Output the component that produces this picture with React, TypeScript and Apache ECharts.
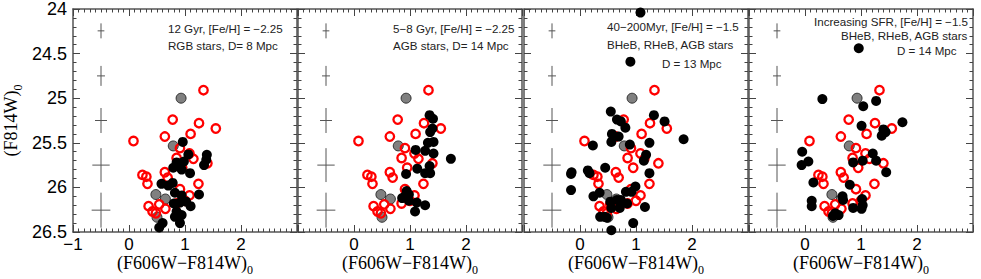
import React, { useEffect, useRef } from "react";
import * as echarts from "echarts";

// Observed stars (same in every panel): colour, magnitude
const redStars: number[][] = [
  [1.33, 24.91], [0.78, 25.24], [1.25, 25.28], [1.55, 25.34], [0.08, 25.48],
  [0.64, 25.43], [1.10, 25.40], [0.91, 25.56], [0.85, 25.67], [1.15, 25.68],
  [1.40, 25.73], [0.95, 25.78], [1.08, 25.62], [0.24, 25.86], [0.31, 25.88],
  [0.33, 25.96], [0.64, 25.83], [0.69, 25.89], [1.24, 25.96], [0.91, 26.02],
  [1.08, 26.09], [0.35, 26.21], [0.42, 26.27], [0.54, 26.19], [0.65, 26.24],
  [0.85, 26.18], [0.48, 26.29], [1.00, 26.15],
];
const greyStars: number[][] = [
  [0.93, 25.0], [0.79, 25.535], [0.48, 26.08], [0.65, 26.13], [0.5, 26.335],
];

// Model stars, one list per panel
const model12Gyr: number[][] = [
  [0.96, 25.49], [1.06, 25.63], [1.39, 25.635], [1.38, 25.69], [1.34, 25.75],
  [0.85, 25.72], [0.98, 25.71], [0.79, 25.78], [0.94, 25.80], [1.09, 25.84],
  [0.58, 25.96], [0.70, 25.98], [0.78, 25.95], [0.82, 26.06], [0.94, 26.09],
  [1.25, 26.08], [0.80, 26.18], [0.91, 26.17], [1.02, 26.16], [1.10, 26.21],
  [0.85, 26.27], [0.94, 26.31], [0.82, 26.33], [0.60, 26.40], [0.54, 26.45],
  [0.91, 26.40],
];
const model5to8Gyr: number[][] = [
  [1.35, 25.19], [1.41, 25.23], [1.40, 25.34], [1.36, 25.38], [1.42, 25.49],
  [1.32, 25.50], [1.27, 25.59], [1.10, 25.58], [1.42, 25.62], [1.73, 25.68],
  [0.93, 25.85], [1.13, 25.79], [1.27, 25.84], [1.35, 25.76], [1.36, 25.84],
  [0.94, 26.04], [0.91, 26.10], [0.86, 26.12], [0.98, 26.15], [1.12, 26.17],
  [1.27, 26.20], [1.09, 26.27], [0.98, 26.08],
];
const model40to200Myr: number[][] = [
  [1.08, 24.04], [0.90, 24.59], [0.55, 25.15], [0.66, 25.24], [0.73, 25.26],
  [0.81, 25.33], [1.32, 25.19], [1.51, 25.26], [0.57, 25.40], [0.69, 25.43],
  [0.56, 25.49], [0.89, 25.52], [1.24, 25.50], [1.85, 25.46], [0.23, 25.53],
  [1.18, 25.635], [1.14, 25.70], [0.45, 25.78], [-0.15, 25.83], [-0.16, 25.85],
  [0.14, 25.81], [0.17, 25.84], [1.24, 25.84], [-0.16, 26.03], [0.99, 25.99],
  [0.92, 26.05], [0.82, 26.05], [0.35, 26.06], [0.24, 26.10], [0.54, 26.16],
  [0.66, 26.14], [0.73, 26.14], [0.56, 26.23], [0.71, 26.23], [0.84, 26.18],
  [1.16, 26.22], [0.36, 26.33], [0.44, 26.33], [0.48, 26.34], [0.95, 26.40],
  [0.56, 26.48],
];
const modelIncreasingSFR: number[][] = [
  [0.96, 24.44], [0.31, 25.01], [1.04, 25.09], [1.27, 25.03], [1.01, 25.31],
  [1.74, 25.27], [1.40, 25.35], [1.44, 25.38], [1.37, 25.42], [-0.05, 25.60],
  [0.06, 25.71], [-0.06, 25.75], [0.86, 25.72], [1.03, 25.70], [1.21, 25.62],
  [1.27, 25.70], [1.45, 25.83], [0.15, 25.945], [0.80, 25.97], [0.12, 26.15],
  [0.12, 26.21], [0.67, 26.10], [0.68, 26.14], [1.02, 26.13], [1.03, 26.20],
  [0.86, 26.23], [1.01, 26.24], [0.54, 26.29], [0.60, 26.31], [0.50, 26.32],
];

// Typical photometric errors: colour position, magnitude, colour error, magnitude error
const errColour = [-0.5, -0.5, -0.5, -0.5, -0.5];
const errMag = [24.245, 24.75, 25.25, 25.75, 26.255];
const errColourSize = [0.06, 0.071, 0.107, 0.155, 0.167];
const errMagSize = [0.084, 0.112, 0.14, 0.19, 0.196];

const xTicks = { min: -1, max: 3, interval: 1 };
const yTicks = { min: 24, max: 26.5, interval: 0.5 };

const panelModels = [model12Gyr, model5to8Gyr, model40to200Myr, modelIncreasingSFR];
const panelNotes: string[][] = [
  ["12 Gyr, [Fe/H] = \u22122.25", "RGB stars, D= 8 Mpc"],
  ["5\u22128 Gyr, [Fe/H] = \u22122.25", "AGB stars, D= 14 Mpc"],
  ["40\u2212200Myr, [Fe/H] = \u22121.5", "BHeB, RHeB, AGB stars", "D = 13 Mpc"],
  ["Increasing SFR, [Fe/H] = \u22121.5", "BHeB, RHeB, AGB stars", "D = 14 Mpc"],
];

const SANS = "'Liberation Sans', Arial, Helvetica, sans-serif";
const SERIF = "'Liberation Serif', 'Times New Roman', serif";

export default function App() {
  const ref = useRef<HTMLDivElement>(null);
  useEffect(() => {
    document.body.style.margin = "0";
    const chart = echarts.init(ref.current!, null, { renderer: "svg" });
    const lefts = [73, 298, 524, 749];
    const grids = lefts.map((l) => ({
      left: l, top: 9, width: 224, height: 223, containLabel: false, outerBoundsMode: "none",
    }));

    const axisLine = { show: true, onZero: false, lineStyle: { color: "#555", width: 1.5 } };
    const tick = { show: true, inside: true, length: 7, lineStyle: { color: "#444", width: 1 } };

    const xAxes: any[] = [];
    const yAxes: any[] = [];
    const series: any[] = [];
    const errData = errColour.map((c, i) => [c, errMag[i], errColourSize[i], errMagSize[i]]);

    lefts.forEach((_, i) => {
      const fmtX = (v: number) => {
        if (v === 3) return "";
        if (i > 0 && v === -1) return "";
        return v < 0 ? "\u2212" + Math.abs(v) : String(v);
      };
      xAxes.push({
        gridIndex: i, type: "value", position: "bottom", ...xTicks,
        axisLine, axisTick: tick,
        minorTick: { show: true, splitNumber: 10, length: 3.5, lineStyle: { color: "#444", width: 1 } },
        splitLine: { show: false },
        axisLabel: { show: true, formatter: fmtX, fontSize: 17, fontFamily: SANS, color: "#000", margin: 4 },
        name: "{a|(F606W\u2212F814W)}{b|0}",
        nameLocation: "middle", nameGap: 18, nameMoveOverlap: false,
        nameTextStyle: {
          rich: {
            a: { fontSize: 18, fontFamily: SERIF, color: "#000" },
            b: { fontSize: 12, fontFamily: SERIF, color: "#000", padding: [14, 0, 0, 0] },
          },
        },
      });
      xAxes.push({
        gridIndex: i, type: "value", position: "top", ...xTicks,
        axisLine, axisTick: tick,
        minorTick: { show: true, splitNumber: 10, length: 3.5, lineStyle: { color: "#444", width: 1 } },
        splitLine: { show: false }, axisLabel: { show: false },
      });
      yAxes.push({
        gridIndex: i, type: "value", position: "left", inverse: true, ...yTicks,
        axisLine, axisTick: tick,
        minorTick: { show: true, splitNumber: 5, length: 3.5, lineStyle: { color: "#444", width: 1 } },
        splitLine: { show: false },
        axisLabel: { show: i === 0, fontSize: 18, fontFamily: SANS, color: "#000", margin: 6 },
        ...(i === 0
          ? {
              name: "{a|(F814W)}{b|0}",
              nameLocation: "middle", nameGap: 49, nameRotate: 90,
              nameTextStyle: {
                rich: {
                  a: { fontSize: 18, fontFamily: SERIF, color: "#000" },
                  b: { fontSize: 12, fontFamily: SERIF, color: "#000", padding: [14, 0, 0, 0] },
                },
              },
            }
          : {}),
      });
      yAxes.push({
        gridIndex: i, type: "value", position: "right", inverse: true, ...yTicks,
        axisLine, axisTick: tick,
        minorTick: { show: true, splitNumber: 5, length: 3.5, lineStyle: { color: "#444", width: 1 } },
        splitLine: { show: false }, axisLabel: { show: false },
      });

      const xi = 2 * i;
      const yi = 2 * i;
      series.push({
        type: "custom", xAxisIndex: xi, yAxisIndex: yi, data: errData, z: 1,
        renderItem: (params: any, api: any) => {
          const x = api.value(0), y = api.value(1), dx = api.value(2), dy = api.value(3);
          const a = api.coord([x - dx, y]), b = api.coord([x + dx, y]);
          const c = api.coord([x, y - dy]), d = api.coord([x, y + dy]);
          const style = { stroke: "#555", lineWidth: 1 };
          return {
            type: "group",
            children: [
              { type: "line", shape: { x1: a[0], y1: a[1], x2: b[0], y2: b[1] }, style },
              { type: "line", shape: { x1: c[0], y1: c[1], x2: d[0], y2: d[1] }, style },
            ],
          };
        },
      });
      series.push({
        type: "scatter", xAxisIndex: xi, yAxisIndex: yi, data: greyStars, z: 2,
        symbol: "circle", symbolSize: 10,
        itemStyle: { color: "#808080", borderColor: "#111", borderWidth: 0.8, opacity: 1 },
      });
      series.push({
        type: "scatter", xAxisIndex: xi, yAxisIndex: yi, data: redStars, z: 3,
        symbol: "circle", symbolSize: 8.5,
        itemStyle: { color: "rgba(0,0,0,0)", borderColor: "#ff0000", borderWidth: 2.3, opacity: 1 },
      });
      series.push({
        type: "scatter", xAxisIndex: xi, yAxisIndex: yi, data: panelModels[i], z: 4,
        symbol: "circle", symbolSize: 10,
        itemStyle: { color: "#000", opacity: 1 },
      });
    });

    const notePos: number[][][] = [
      [[168, 28], [168, 45]],
      [[393, 28], [393, 45]],
      [[607, 26], [607, 44.5], [662, 63]],
      [[814, 21.5], [841, 35.5], [897, 50]],
    ];
    const graphic: any[] = [];
    panelNotes.forEach((lines, p) =>
      lines.forEach((t, k) =>
        graphic.push({
          type: "text", x: notePos[p][k][0], y: notePos[p][k][1], z: 10,
          style: { text: t, fontSize: 11.6, fontFamily: SANS, fill: "#222", textVerticalAlign: "middle", textAlign: "left" },
        })
      )
    );

    chart.setOption({
      animation: false,
      backgroundColor: "#fff",
      grid: grids,
      xAxis: xAxes,
      yAxis: yAxes,
      series,
      graphic,
    });
    return () => chart.dispose();
  }, []);
  return <div ref={ref} style={{ width: 981, height: 279 }} />;
}
